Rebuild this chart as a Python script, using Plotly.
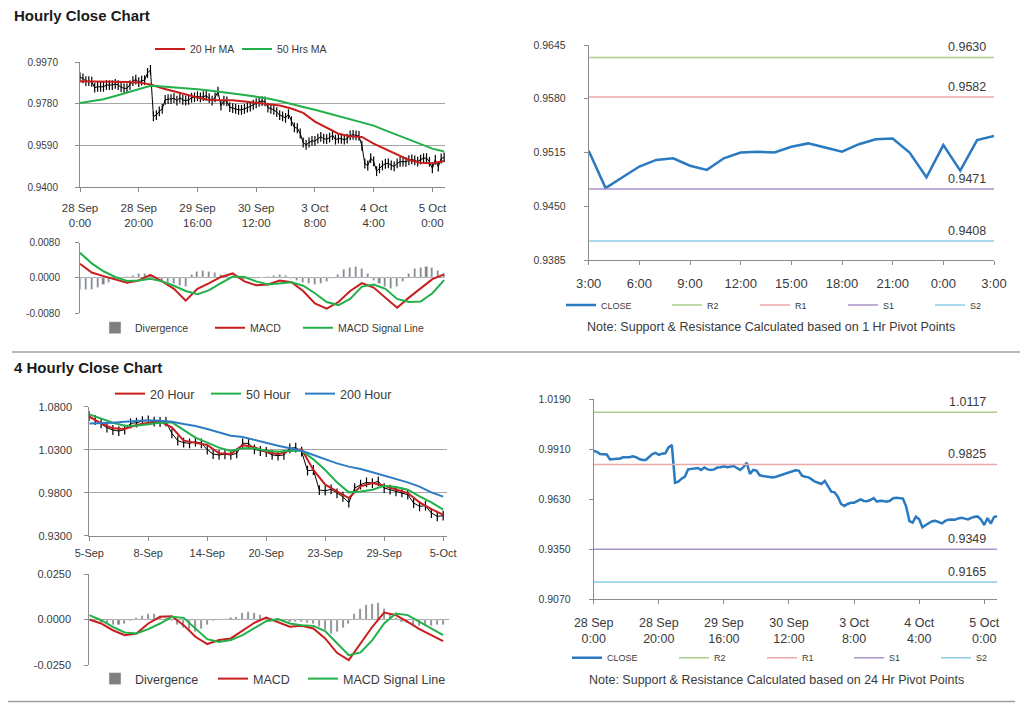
import plotly.graph_objects as go

W, H = 1024, 703
FONT = "Liberation Sans, Arial, Helvetica, sans-serif"

# ====================== DATA ======================
# ---- Hourly chart: hour index counted from 28 Sep 0:00 ----
tick_pos_1h = [0, 20, 40, 60, 80, 100, 120]
tick_text_1h = ["28 Sep<br>0:00", "28 Sep<br>20:00", "29 Sep<br>16:00", "30 Sep<br>12:00",
                "3 Oct<br>8:00", "4 Oct<br>4:00", "5 Oct<br>0:00"]
y_ticks_1h = [0.9400, 0.9590, 0.9780, 0.9970]
y_ticks_1h_macd = [-0.0080, 0.0000, 0.0080]

close_1h = [
    0.9900, 0.9895, 0.9883, 0.9883, 0.9880, 0.9853, 0.9857, 0.9857, 0.9857, 0.9865,
    0.9865, 0.9865, 0.9870, 0.9865, 0.9855, 0.9850, 0.9850, 0.9865, 0.9883, 0.9890,
    0.9878, 0.9885, 0.9887, 0.9920, 0.9934, 0.9722, 0.9728, 0.9745, 0.9756, 0.9797,
    0.9801, 0.9801, 0.9805, 0.9794, 0.9807, 0.9797, 0.9794, 0.9797, 0.9807, 0.9809,
    0.9814, 0.9809, 0.9814, 0.9816, 0.9805, 0.9794, 0.9809, 0.9835, 0.9771, 0.9794,
    0.9790, 0.9764, 0.9760, 0.9756, 0.9752, 0.9752, 0.9756, 0.9762, 0.9767, 0.9775,
    0.9782, 0.9788, 0.9792, 0.9790, 0.9762, 0.9756, 0.9752, 0.9741, 0.9728, 0.9722,
    0.9715, 0.9732, 0.9700, 0.9672, 0.9668, 0.9644, 0.9603, 0.9592, 0.9603, 0.9610,
    0.9610, 0.9621, 0.9629, 0.9620, 0.9618, 0.9625, 0.9636, 0.9616, 0.9621, 0.9620,
    0.9616, 0.9621, 0.9635, 0.9638, 0.9635, 0.9633, 0.9588, 0.9507, 0.9498, 0.9532,
    0.9517, 0.9472, 0.9485, 0.9498, 0.9506, 0.9508, 0.9499, 0.9494, 0.9508, 0.9515,
    0.9516, 0.9515, 0.9522, 0.9526, 0.9521, 0.9516, 0.9525, 0.9531, 0.9532, 0.9515,
    0.9485, 0.9524, 0.9493, 0.9530, 0.9535,
]
hours_1h = list(range(len(close_1h)))

ma_hours_1h = list(range(0, 125, 4))
ma20_1h = [0.9882, 0.9882, 0.9882, 0.9881, 0.9879, 0.9876, 0.9868, 0.9850, 0.9835, 0.9820,
           0.9808, 0.9797, 0.9795, 0.9796, 0.9790, 0.9784, 0.9780, 0.9772, 0.9758, 0.9738,
           0.9698, 0.9669, 0.9643, 0.9631, 0.9628, 0.9598, 0.9573, 0.9547, 0.9523, 0.9511,
           0.9508, 0.9519]
ma50_1h = [0.9783, 0.9790, 0.9800, 0.9815, 0.9830, 0.9845, 0.9862, 0.9858, 0.9855, 0.9850,
           0.9846, 0.9840, 0.9834, 0.9827, 0.9820, 0.9812, 0.9804, 0.9792, 0.9780, 0.9765,
           0.9752, 0.9738, 0.9724, 0.9710, 0.9697, 0.9680, 0.9658, 0.9637, 0.9615, 0.9595,
           0.9575, 0.9562]
macd_1h = [0.0032, 0.0012, 0.0004, -0.0004, -0.0011, -0.0006, 0.0007, -0.0008, -0.0025, -0.0052,
           -0.0025, -0.0012, 0.0002, 0.0010, -0.0008, -0.0017, -0.0015, -0.0006, -0.0010, -0.0030,
           -0.0058, -0.0070, -0.0055, -0.0030, -0.0012, -0.0022, -0.0045, -0.0068, -0.0045, -0.0025,
           -0.0003, 0.0008]
signal_1h = [0.0057, 0.0033, 0.0015, 0.0002, -0.0007, -0.0006, -0.0002, -0.0008, -0.0018, -0.0030,
             -0.0037, -0.0028, -0.0012, 0.0003, 0.0002, -0.0008, -0.0015, -0.0012, -0.0010, -0.0018,
             -0.0035, -0.0055, -0.0062, -0.0048, -0.0020, -0.0015, -0.0025, -0.0048, -0.0055, -0.0054,
             -0.0035, -0.0005]
div_hours_1h = list(range(0, 125, 2))
div_1h = [-0.0028, -0.0028, -0.0026, -0.0022, -0.0016, -0.0010, -0.0005, -0.0002, 0.0002, 0.0006,
          0.0009, 0.0010, 0.0006, -0.0003, -0.0007, -0.0010, -0.0013, -0.0017, -0.0020, 0.0008,
          0.0015, 0.0017, 0.0015, 0.0012, 0.0008, 0.0004, 0.0001, -0.0003, -0.0004, -0.0004,
          -0.0002, 0.0000, 0.0003, 0.0006, 0.0007, 0.0004, -0.0003, -0.0006, -0.0010, -0.0014,
          -0.0015, -0.0013, -0.0008, -0.0003, 0.0008, 0.0018, 0.0024, 0.0025, 0.0020, 0.0010,
          -0.0006, -0.0014, -0.0020, -0.0024, -0.0020, -0.0008, 0.0010, 0.0020, 0.0024, 0.0025,
          0.0022, 0.0016, 0.0010]

# ---- Last 24 hours (1 Hr pivot chart) ----
last24_count = 25
last24_tick_pos = [0, 3, 6, 9, 12, 15, 18, 21, 24]
last24_tick_text = ["3:00", "6:00", "9:00", "12:00", "15:00", "18:00", "21:00", "0:00", "3:00"]
y_ticks_last24 = [0.9385, 0.9450, 0.9515, 0.9580, 0.9645]

pivot_names = ["R2", "R1", "S1", "S2"]
pivot_1h = [0.9630, 0.9582, 0.9471, 0.9408]
pivot_24h = [1.0117, 0.9825, 0.9349, 0.9165]
y_ticks_24h = [0.9070, 0.9350, 0.9630, 0.9910, 1.0190]

# ---- 4 Hourly chart: bar index ----
tick_pos_4h = [0, 20, 40, 60, 80, 100, 120]
tick_text_4h = ["5-Sep", "8-Sep", "14-Sep", "20-Sep", "23-Sep", "29-Sep", "5-Oct"]
y_ticks_4h = [0.9300, 0.9800, 1.0300, 1.0800]
y_ticks_4h_macd = [-0.0250, 0.0000, 0.0250]

bars_4h = list(range(0, 121, 2))
close_4h = [1.0691, 1.0645, 1.0606, 1.0556, 1.0529, 1.0517, 1.0533, 1.0606, 1.0614, 1.0633,
            1.0641, 1.0626, 1.0622, 1.0626, 1.0490, 1.0405, 1.0382, 1.0374, 1.0393, 1.0374,
            1.0300, 1.0250, 1.0239, 1.0246, 1.0239, 1.0258, 1.0374, 1.0374, 1.0304, 1.0285,
            1.0273, 1.0239, 1.0231, 1.0239, 1.0316, 1.0324, 1.0277, 1.0056, 1.0064, 0.9831,
            0.9823, 0.9839, 0.9792, 0.9753, 0.9684, 0.9854, 0.9893, 0.9920, 0.9912, 0.9932,
            0.9854, 0.9835, 0.9815, 0.9804, 0.9777, 0.9680, 0.9642, 0.9649, 0.9564, 0.9525,
            0.9533]
ma_bars_4h = list(range(0, 121, 4))
ma20_4h = [1.0684, 1.0606, 1.0548, 1.0541, 1.0587, 1.0614, 1.0626, 1.0560, 1.0405, 1.0382,
           1.0355, 1.0258, 1.0250, 1.0355, 1.0328, 1.0277, 1.0246, 1.0289, 1.0304, 1.0064,
           0.9893, 0.9815, 0.9738, 0.9874, 0.9912, 0.9881, 0.9835, 0.9796, 0.9688, 0.9610,
           0.9545]
ma50_4h = [1.0711, 1.0665, 1.0614, 1.0579, 1.0579, 1.0595, 1.0614, 1.0618, 1.0529, 1.0440,
           1.0382, 1.0324, 1.0285, 1.0316, 1.0316, 1.0289, 1.0277, 1.0289, 1.0289, 1.0188,
           1.0064, 0.9920, 0.9804, 0.9815, 0.9835, 0.9881, 0.9866, 0.9835, 0.9757, 0.9688,
           0.9603]
ma200_4h = [1.0606, 1.0606, 1.0614, 1.0626, 1.0637, 1.0641, 1.0637, 1.0626, 1.0599, 1.0576,
            1.0541, 1.0502, 1.0463, 1.0448, 1.0413, 1.0374, 1.0347, 1.0316, 1.0289, 1.0239,
            1.0188, 1.0141, 1.0103, 1.0075, 1.0037, 0.9998, 0.9959, 0.9920, 0.9870, 0.9804,
            0.9754]
macd_4h = [0.0000, -0.0022, -0.0059, -0.0086, -0.0077, -0.0022, 0.0015, 0.0018, -0.0031, -0.0095,
           -0.0135, -0.0113, -0.0104, -0.0059, -0.0018, 0.0011, -0.0013, -0.0040, -0.0035, -0.0049,
           -0.0104, -0.0183, -0.0223, -0.0132, -0.0040, 0.0038, 0.0024, -0.0013, -0.0053, -0.0086,
           -0.0119]
signal_4h = [0.0024, -0.0004, -0.0040, -0.0071, -0.0077, -0.0053, -0.0022, 0.0015, 0.0009, -0.0049,
             -0.0108, -0.0123, -0.0113, -0.0086, -0.0049, -0.0009, 0.0002, -0.0022, -0.0031, -0.0035,
             -0.0064, -0.0132, -0.0196, -0.0181, -0.0113, -0.0022, 0.0033, 0.0024, -0.0013, -0.0049,
             -0.0086]
div_4h = [-0.0005, -0.0010, -0.0018, -0.0025, -0.0030, -0.0030, -0.0022, -0.0008, 0.0008, 0.0020,
          0.0030, 0.0030, 0.0020, 0.0008, -0.0010, -0.0030, -0.0045, -0.0060, -0.0068, -0.0050,
          -0.0030, -0.0010, 0.0003, 0.0005, 0.0008, 0.0012, 0.0035, 0.0040, 0.0035, 0.0025,
          0.0015, 0.0005, -0.0008, -0.0012, -0.0015, -0.0015, -0.0015, -0.0018, -0.0022, -0.0040,
          -0.0060, -0.0080, -0.0070, -0.0045, -0.0025, 0.0030, 0.0060, 0.0080, 0.0085, 0.0088,
          0.0060, 0.0030, 0.0008, -0.0012, -0.0020, -0.0030, -0.0035, -0.0035, -0.0035, -0.0032,
          -0.0030]

# ====================== STYLE ======================
C_RED = "#C81E1E"
C_GREEN = "#22B04A"
C_BLUE = "#2F7CC4"
C_CLOSE = "#2A7AC1"
C_DIV = "#7F7F7F"
C_GRID = "#A6A6A6"
C_AXIS = "#8C8C8C"
C_TEXT = "#3A3A3A"
PIVOT_COLORS = ["#A9CF8A", "#EBA9A9", "#A995CD", "#8BCDE8"]


def dom_x(left, right):
    return [left / W, right / W]


def dom_y(top, bottom):
    return [1 - bottom / H, 1 - top / H]


def fmt4(v):
    return f"{v:.4f}"


def xaxis(yid, left, right, rng, tickvals=None, ticktext=None, size=11, standoff=0, visible=True):
    ax = dict(domain=dom_x(left, right), anchor=yid, range=rng, fixedrange=True,
              showgrid=False, zeroline=False, automargin=False)
    if visible:
        ax.update(showline=True, linecolor=C_AXIS, linewidth=1, ticks="outside", ticklen=4,
                  tickcolor=C_AXIS, tickwidth=1, tickmode="array", tickvals=tickvals,
                  ticktext=ticktext, tickfont=dict(family=FONT, size=size, color=C_TEXT),
                  ticklabelstandoff=standoff, tickangle=0)
    else:
        ax.update(showline=False, showticklabels=False, ticks="")
    return ax


def yaxis(xid, top, bottom, ticks, size=10, standoff=0, grid=True, zero=False):
    return dict(domain=dom_y(top, bottom), anchor=xid, range=[min(ticks), max(ticks)],
                fixedrange=True, automargin=False, tickmode="array", tickvals=ticks,
                ticktext=[fmt4(t) for t in ticks], showline=True, linecolor=C_AXIS,
                linewidth=1, ticks="outside", ticklen=4, tickcolor=C_AXIS, tickwidth=1,
                tickfont=dict(family=FONT, size=size, color=C_TEXT), ticklabelstandoff=standoff,
                showgrid=grid, gridcolor=C_GRID, gridwidth=1,
                zeroline=zero, zerolinecolor=C_GRID, zerolinewidth=1)


def legend(x_px, y_px, size):
    return dict(x=x_px / W, y=1 - y_px / H, xanchor="left", yanchor="middle",
                orientation="h", font=dict(family=FONT, size=size, color=C_TEXT),
                bgcolor="rgba(0,0,0,0)", borderwidth=0, entrywidthmode="pixels",
                itemwidth=30, tracegroupgap=0, itemclick=False, itemdoubleclick=False)


fig = go.Figure()

# ---------- Panel 1: hourly close with MAs ----------
fig.add_trace(go.Scatter(x=hours_1h, y=close_1h, mode="lines+markers", name="Close",
                         line=dict(color="black", width=1),
                         marker=dict(symbol="line-ns", size=7, line=dict(width=1.2, color="black")),
                         showlegend=False, xaxis="x", yaxis="y"))
fig.add_trace(go.Scatter(x=ma_hours_1h, y=ma20_1h, mode="lines", name="20 Hr MA",
                         line=dict(color=C_RED, width=2), xaxis="x", yaxis="y",
                         legend="legend", legendwidth=42))
fig.add_trace(go.Scatter(x=ma_hours_1h, y=ma50_1h, mode="lines", name="50 Hrs MA",
                         line=dict(color=C_GREEN, width=2), xaxis="x", yaxis="y",
                         legend="legend", legendwidth=55))

# ---------- Panel 2: hourly MACD ----------
fig.add_trace(go.Bar(x=div_hours_1h, y=div_1h, name="Divergence", marker_color=C_DIV,
                     width=0.7, xaxis="x2", yaxis="y2", legend="legend2", legendwidth=70))
fig.add_trace(go.Scatter(x=ma_hours_1h, y=macd_1h, mode="lines", name="MACD",
                         line=dict(color=C_RED, width=2), xaxis="x2", yaxis="y2",
                         legend="legend2", legendwidth=43))
fig.add_trace(go.Scatter(x=ma_hours_1h, y=signal_1h, mode="lines", name="MACD Signal Line",
                         line=dict(color=C_GREEN, width=2), xaxis="x2", yaxis="y2",
                         legend="legend2", legendwidth=95))

# ---------- Panel 3: last 24 hours with 1 Hr pivots ----------
last24 = close_1h[-last24_count:]
last24_x = list(range(last24_count))
fig.add_trace(go.Scatter(x=last24_x, y=last24, mode="lines", name="CLOSE",
                         line=dict(color=C_CLOSE, width=2.5), xaxis="x3", yaxis="y3",
                         legend="legend3", legendwidth=61))
for name, lvl, col, lw in zip(pivot_names, pivot_1h, PIVOT_COLORS, [43, 43, 42, 20]):
    fig.add_trace(go.Scatter(x=[last24_x[0], last24_x[-1]], y=[lvl, lvl], mode="lines", name=name,
                             line=dict(color=col, width=1.5), xaxis="x3", yaxis="y3",
                             legend="legend3", legendwidth=lw))
    fig.add_annotation(x=last24_x[-1], y=lvl, xref="x3", yref="y3", text=fmt4(lvl),
                       showarrow=False, xanchor="right", yanchor="bottom", xshift=-6, yshift=1,
                       font=dict(family=FONT, size=12.5, color=C_TEXT))

# ---------- Panel 4: 4 hourly close with MAs ----------
fig.add_trace(go.Scatter(x=bars_4h, y=close_4h, mode="lines+markers", name="Close",
                         line=dict(color="black", width=1),
                         marker=dict(symbol="line-ns", size=7, line=dict(width=1.2, color="black")),
                         showlegend=False, xaxis="x4", yaxis="y4"))
fig.add_trace(go.Scatter(x=ma_bars_4h, y=ma20_4h, mode="lines", name="20 Hour",
                         line=dict(color=C_RED, width=2), xaxis="x4", yaxis="y4",
                         legend="legend4", legendwidth=51))
fig.add_trace(go.Scatter(x=ma_bars_4h, y=ma50_4h, mode="lines", name="50 Hour",
                         line=dict(color=C_GREEN, width=2), xaxis="x4", yaxis="y4",
                         legend="legend4", legendwidth=49))
fig.add_trace(go.Scatter(x=ma_bars_4h, y=ma200_4h, mode="lines", name="200 Hour",
                         line=dict(color=C_BLUE, width=2), xaxis="x4", yaxis="y4",
                         legend="legend4", legendwidth=62))

# ---------- Panel 5: 4 hourly MACD ----------
fig.add_trace(go.Bar(x=bars_4h, y=div_4h, name="Divergence", marker_color=C_DIV,
                     width=0.7, xaxis="x5", yaxis="y5", legend="legend5", legendwidth=73))
fig.add_trace(go.Scatter(x=ma_bars_4h, y=macd_4h, mode="lines", name="MACD",
                         line=dict(color=C_RED, width=2), xaxis="x5", yaxis="y5",
                         legend="legend5", legendwidth=45))
fig.add_trace(go.Scatter(x=ma_bars_4h, y=signal_4h, mode="lines", name="MACD Signal Line",
                         line=dict(color=C_GREEN, width=2), xaxis="x5", yaxis="y5",
                         legend="legend5", legendwidth=112))

# ---------- Panel 6: hourly close with 24 Hr pivots ----------
fig.add_trace(go.Scatter(x=hours_1h, y=close_1h, mode="lines", name="CLOSE",
                         line=dict(color=C_CLOSE, width=2.5), xaxis="x6", yaxis="y6",
                         legend="legend6", legendwidth=62))
for name, lvl, col, lw in zip(pivot_names, pivot_24h, PIVOT_COLORS, [43, 42, 42, 20]):
    fig.add_trace(go.Scatter(x=[hours_1h[0], hours_1h[-1]], y=[lvl, lvl], mode="lines", name=name,
                             line=dict(color=col, width=1.5), xaxis="x6", yaxis="y6",
                             legend="legend6", legendwidth=lw))
    fig.add_annotation(x=hours_1h[-1], y=lvl, xref="x6", yref="y6", text=fmt4(lvl),
                       showarrow=False, xanchor="right", yanchor="bottom", xshift=-9, yshift=1,
                       font=dict(family=FONT, size=12.5, color=C_TEXT))

# ---------- headings, notes, separators ----------
for text, ypx in [("Hourly Close Chart", 16), ("4 Hourly Close Chart", 367)]:
    fig.add_annotation(x=12 / W, y=1 - ypx / H, xref="paper", yref="paper", text=f"<b>{text}</b>",
                       showarrow=False, xanchor="left", yanchor="middle",
                       font=dict(family=FONT, size=15, color="#1a1a1a"))
for text, xpx, ypx in [("Note: Support & Resistance Calculated based on 1 Hr Pivot Points", 771, 327),
                       ("Note: Support & Resistance Calculated based on 24 Hr Pivot Points", 776, 680)]:
    fig.add_annotation(x=xpx / W, y=1 - ypx / H, xref="paper", yref="paper", text=text,
                       showarrow=False, xanchor="center", yanchor="middle",
                       font=dict(family=FONT, size=12.5, color=C_TEXT))
for x0, x1, ypx in [(12, 1020, 352), (8, 1015, 701.5)]:
    fig.add_shape(type="line", xref="paper", yref="paper", x0=x0 / W, x1=x1 / W,
                  y0=1 - ypx / H, y1=1 - ypx / H, line=dict(color="#A0A0A0", width=1.5))

fig.update_layout(
    width=W, height=H, margin=dict(l=0, r=0, t=0, b=0, autoexpand=False),
    paper_bgcolor="white", plot_bgcolor="white", showlegend=True, bargap=0,
    font=dict(family=FONT, color=C_TEXT),
    xaxis=xaxis("y", 80, 445, [0, 124.3], tick_pos_1h, tick_text_1h, size=11.5, standoff=6),
    yaxis=yaxis("x", 62, 187, y_ticks_1h, size=10, standoff=15),
    xaxis2=xaxis("y2", 80, 445, [0, 124.3], visible=False),
    yaxis2=yaxis("x2", 242.7, 313, y_ticks_1h_macd, size=10, standoff=13, zero=True),
    xaxis3=xaxis("y3", 588.7, 994, [0, 24], last24_tick_pos, last24_tick_text, size=13, standoff=7),
    yaxis3=yaxis("x3", 45, 260, y_ticks_last24, size=10.5, standoff=16, grid=False),
    xaxis4=xaxis("y4", 89.3, 446.7, [0, 121.2], tick_pos_4h, tick_text_4h, size=11, standoff=3),
    yaxis4=yaxis("x4", 406.7, 535.7, y_ticks_4h, size=11, standoff=10),
    xaxis5=xaxis("y5", 89.3, 449, [0, 122], visible=False),
    yaxis5=yaxis("x5", 574, 665, y_ticks_4h_macd, size=11, standoff=11, zero=True),
    xaxis6=xaxis("y6", 593.7, 997.3, [0, 124], tick_pos_1h, tick_text_1h, size=12.5, standoff=8),
    yaxis6=yaxis("x6", 399.3, 599, y_ticks_24h, size=10.5, standoff=16, grid=False),
    legend=legend(150, 49, 10.5),
    legend2=legend(95, 327.7, 10.5),
    legend3=legend(561, 305, 9),
    legend4=legend(110, 394, 12.5),
    legend5=legend(95, 679, 12.5),
    legend6=legend(567, 657.7, 9),
)

fig.write_html("out.html", config={"displayModeBar": False},
               post_script="document.body.style.margin='0px';")
